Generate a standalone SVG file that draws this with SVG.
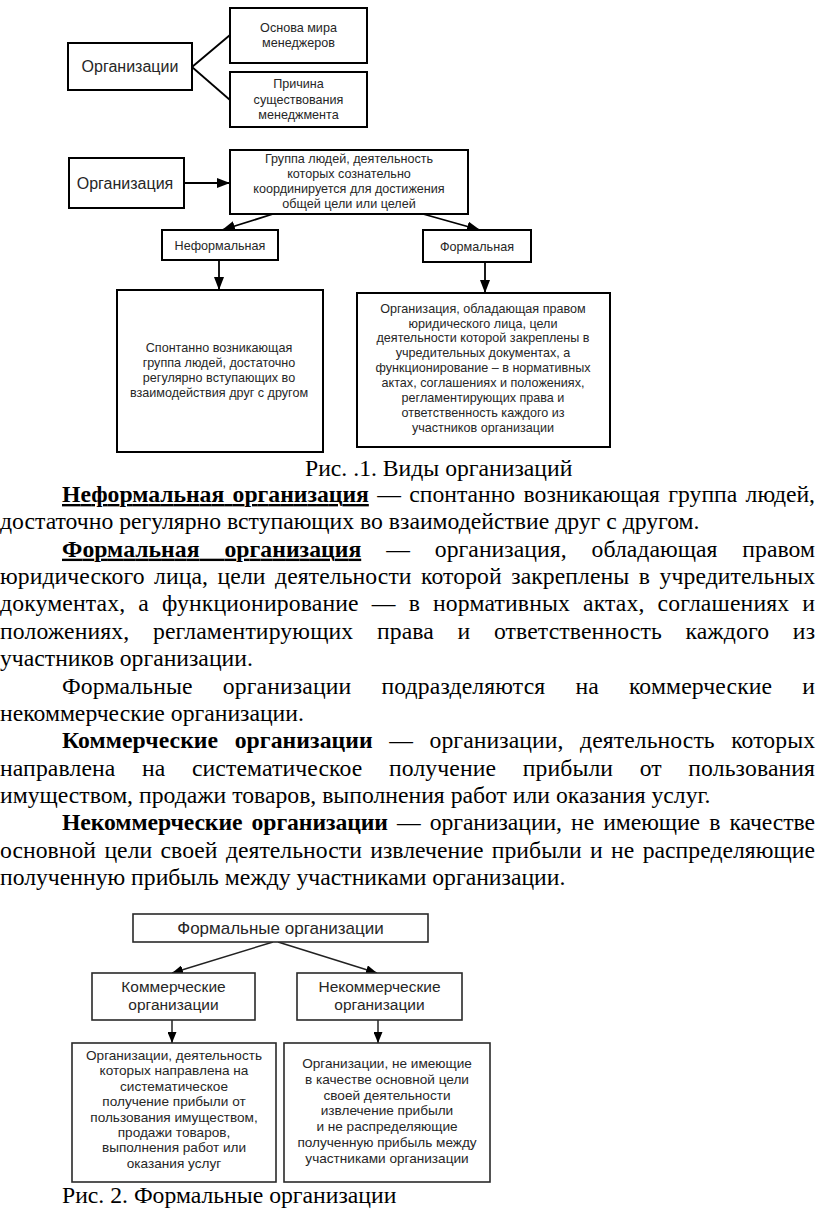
<svg xmlns="http://www.w3.org/2000/svg" width="816" height="1213" viewBox="0 0 816 1213">
<style>
.bt{font-family:"Liberation Serif","Times New Roman",serif;font-size:23.7px;fill:#000}
.d{font-family:"Liberation Sans",Arial,sans-serif;fill:#262626;text-anchor:middle}
.s12{font-size:12.6px}
.s13{font-size:13.6px}
.s15{font-size:15.5px}
.s16{font-size:16px}
.s17{font-size:17px}
.box{fill:#fff;stroke:#000;stroke-width:2}
.box3{fill:#fff;stroke:#2a2a2a;stroke-width:1.6}
.con{stroke:#000;stroke-width:1.8;fill:none}
.con3{stroke:#222;stroke-width:1.5;fill:none}
</style>
<defs>
<marker id="ah" markerUnits="userSpaceOnUse" markerWidth="13" markerHeight="10" refX="13" refY="5" orient="auto">
<path d="M0,0 L13,5 L0,10 z" fill="#000"/>
</marker>
<marker id="ah3" markerUnits="userSpaceOnUse" markerWidth="11" markerHeight="9" refX="11" refY="4.5" orient="auto">
<path d="M0,0 L11,4.5 L0,9 z" fill="#000"/>
</marker>
</defs>
<rect width="816" height="1213" fill="#fff"/>

<!-- Diagram 1 -->
<g id="connectors1">
<line class="con" x1="192" y1="67" x2="230" y2="35"/>
<line class="con" x1="192" y1="67" x2="230" y2="100"/>
</g>
<g id="n-org1">
<rect class="box" x="68" y="43" width="124" height="47"/>
<text class="d s16" x="130" y="72">Организации</text>
</g>
<g id="n-osnova">
<rect class="box" x="230" y="8" width="137" height="55"/>
<text class="d s12" x="298.5" y="32">Основа мира</text>
<text class="d s12" x="298.5" y="47">менеджеров</text>
</g>
<g id="n-prichina">
<rect class="box" x="230" y="72" width="137" height="55"/>
<text class="d s12" x="298.5" y="88">Причина</text>
<text class="d s12" x="298.5" y="104">существования</text>
<text class="d s12" x="298.5" y="119">менеджмента</text>
</g>

<!-- Diagram 2 -->
<g id="connectors2">
<line class="con" x1="184" y1="183" x2="230" y2="183" marker-end="url(#ah)"/>
<line class="con" x1="273" y1="214" x2="222" y2="230" marker-end="url(#ah)"/>
<line class="con" x1="423" y1="214" x2="480" y2="230" marker-end="url(#ah)"/>
<line class="con" x1="219" y1="260" x2="219" y2="290" marker-end="url(#ah)"/>
<line class="con" x1="485" y1="262" x2="485" y2="293" marker-end="url(#ah)"/>
</g>
<g id="n-org2">
<rect class="box" x="69" y="158" width="115" height="50"/>
<text class="d s16" x="125" y="189">Организация</text>
</g>
<g id="n-gruppa">
<rect class="box" x="230" y="150" width="238" height="64"/>
<text class="d s12" x="349" y="162.5">Группа людей, деятельность</text>
<text class="d s12" x="349" y="177.5">которых сознательно</text>
<text class="d s12" x="349" y="192.5">координируется для достижения</text>
<text class="d s12" x="349" y="207.5">общей цели или целей</text>
</g>
<g id="n-neform">
<rect class="box" x="162" y="230" width="116" height="30"/>
<text class="d s12" x="220" y="249.5">Неформальная</text>
</g>
<g id="n-form">
<rect class="box" x="423" y="230" width="108" height="32"/>
<text class="d s12" x="477" y="250.5">Формальная</text>
</g>
<g id="n-neform-def">
<rect class="box" x="117" y="290" width="206" height="162"/>
<text class="d s12" x="219" y="351.5">Спонтанно возникающая</text>
<text class="d s12" x="219" y="366.5">группа людей, достаточно</text>
<text class="d s12" x="219" y="381.5">регулярно вступающих во</text>
<text class="d s12" x="219" y="396.5">взаимодействия друг с другом</text>
</g>
<g id="n-form-def">
<rect class="box" x="357" y="293" width="253" height="154"/>
<text class="d s12" x="483" y="312.5">Организация, обладающая правом</text>
<text class="d s12" x="483" y="327.5">юридического лица, цели</text>
<text class="d s12" x="483" y="342">деятельности которой закреплены в</text>
<text class="d s12" x="483" y="357">учредительных документах, а</text>
<text class="d s12" x="483" y="372">функционирование – в нормативных</text>
<text class="d s12" x="483" y="386.5">актах, соглашениях и положениях,</text>
<text class="d s12" x="483" y="401.5">регламентирующих права и</text>
<text class="d s12" x="483" y="416.5">ответственность каждого из</text>
<text class="d s12" x="483" y="431.5">участников организации</text>
</g>

<!-- Body text -->
<g id="body-text">
<text class="bt" x="305" y="476">Рис. .1. Виды организаций</text>
<text class="bt" x="62" y="502" textLength="753" lengthAdjust="spacing" style="word-spacing:2.5px"><tspan font-weight="bold" text-decoration="underline">Неформальная организация</tspan> — спонтанно возникающая группа людей,</text>
<text class="bt" x="0" y="529.4">достаточно регулярно вступающих во взаимодействие друг с другом.</text>
<text class="bt" x="62" y="556.7" textLength="753" lengthAdjust="spacing" style="word-spacing:19px"><tspan font-weight="bold" text-decoration="underline">Формальная организация</tspan> — организация, обладающая правом</text>
<text class="bt" x="0" y="584" textLength="815" lengthAdjust="spacing" style="word-spacing:3.5px">юридического лица, цели деятельности которой закреплены в учредительных</text>
<text class="bt" x="0" y="611.4" textLength="815" lengthAdjust="spacing" style="word-spacing:7px">документах, а функционирование — в нормативных актах, соглашениях и</text>
<text class="bt" x="0" y="638.8" textLength="815" lengthAdjust="spacing" style="word-spacing:17.5px">положениях, регламентирующих права и ответственность каждого из</text>
<text class="bt" x="0" y="666.2">участников организации.</text>
<text class="bt" x="62" y="693.5" textLength="753" lengthAdjust="spacing" style="word-spacing:24px">Формальные организации подразделяются на коммерческие и</text>
<text class="bt" x="0" y="720.9">некоммерческие организации.</text>
<text class="bt" x="62" y="748.2" textLength="753" lengthAdjust="spacing" style="word-spacing:10.5px"><tspan font-weight="bold">Коммерческие организации</tspan> — организации, деятельность которых</text>
<text class="bt" x="0" y="775.6" textLength="815" lengthAdjust="spacing" style="word-spacing:20.5px">направлена на систематическое получение прибыли от пользования</text>
<text class="bt" x="0" y="803">имуществом, продажи товаров, выполнения работ или оказания услуг.</text>
<text class="bt" x="62" y="830.3" textLength="753" lengthAdjust="spacing" style="word-spacing:3.3px"><tspan font-weight="bold">Некоммерческие организации</tspan> — организации, не имеющие в качестве</text>
<text class="bt" x="0" y="857.7" textLength="815" lengthAdjust="spacing" style="word-spacing:2.4px">основной цели своей деятельности извлечение прибыли и не распределяющие</text>
<text class="bt" x="0" y="885">полученную прибыль между участниками организации.</text>
<text class="bt" x="62" y="1203">Рис. 2. Формальные организации</text>
</g>

<!-- Diagram 3 -->
<g id="connectors3">
<line class="con3" x1="273" y1="942" x2="172" y2="973" marker-end="url(#ah3)"/>
<line class="con3" x1="278" y1="942" x2="377" y2="973" marker-end="url(#ah3)"/>
<line class="con3" x1="172" y1="1020" x2="172" y2="1043" marker-end="url(#ah3)"/>
<line class="con3" x1="378" y1="1020" x2="378" y2="1043" marker-end="url(#ah3)"/>
</g>
<g id="n-formal-orgs">
<rect class="box3" x="133" y="914" width="295" height="28"/>
<text class="d s17" x="280.5" y="934">Формальные организации</text>
</g>
<g id="n-kommer">
<rect class="box3" x="92" y="973" width="163" height="47"/>
<text class="d s15" x="173.5" y="992">Коммерческие</text>
<text class="d s15" x="173.5" y="1009.5">организации</text>
</g>
<g id="n-nekommer">
<rect class="box3" x="297" y="973" width="165" height="47"/>
<text class="d s15" x="379.5" y="992">Некоммерческие</text>
<text class="d s15" x="379.5" y="1009.5">организации</text>
</g>
<g id="n-kommer-def">
<rect class="box3" x="72" y="1043" width="204" height="139"/>
<text class="d s13" x="174" y="1060">Организации, деятельность</text>
<text class="d s13" x="174" y="1075.4">которых направлена на</text>
<text class="d s13" x="174" y="1090.8">систематическое</text>
<text class="d s13" x="174" y="1106.2">получение прибыли от</text>
<text class="d s13" x="174" y="1121.6">пользования имуществом,</text>
<text class="d s13" x="174" y="1137">продажи товаров,</text>
<text class="d s13" x="174" y="1152.4">выполнения работ или</text>
<text class="d s13" x="174" y="1167.8">оказания услуг</text>
</g>
<g id="n-nekommer-def">
<rect class="box3" x="284" y="1043" width="206" height="139"/>
<text class="d s13" x="387" y="1068">Организации, не имеющие</text>
<text class="d s13" x="387" y="1083.8">в качестве основной цели</text>
<text class="d s13" x="387" y="1099.6">своей деятельности</text>
<text class="d s13" x="387" y="1115.4">извлечение прибыли</text>
<text class="d s13" x="387" y="1131.2">и не распределяющие</text>
<text class="d s13" x="387" y="1147">полученную прибыль между</text>
<text class="d s13" x="387" y="1162.8">участниками организации</text>
</g>
</svg>
